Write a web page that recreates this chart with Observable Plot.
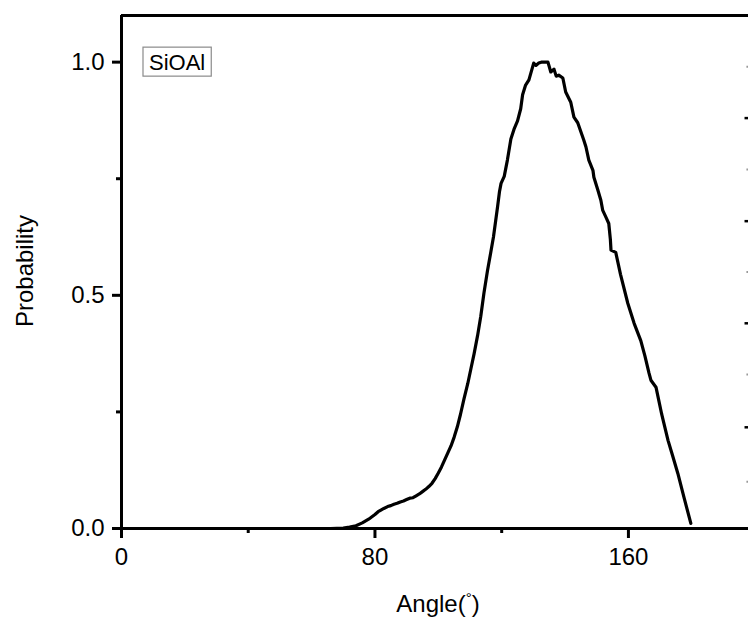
<!DOCTYPE html>
<html>
<head>
<meta charset="utf-8">
<script src="https://cdn.jsdelivr.net/npm/d3@7"></script>
<script src="https://cdn.jsdelivr.net/npm/@observablehq/plot@0.6"></script>
<style>
  html, body { margin: 0; padding: 0; background: #fff; }
  svg { display: block; }
</style>
</head>
<body>
<div id="chart"></div>
<script>
// Si–O–Al bond angle distribution (normalised to the peak)
const angle = [
  66, 70, 72, 74, 76, 78, 80, 81, 82, 82.8, 84, 85, 86, 87, 88, 89, 90, 91, 92, 93,
  94, 95, 96, 97, 98, 99, 100, 101, 102, 103, 104, 105, 106, 107, 108.1, 109.3, 110.3,
  111.3, 112.4, 113.4, 114.4, 115.5, 116.6, 117.4, 118.1, 118.7, 119.3, 119.8, 120.8, 121.8,
  122.9, 124, 125, 126, 126.6, 127.5, 128.6, 130.1, 130.8, 131.7, 132.5, 133.3, 134.6,
  135.5, 136.5, 137.2, 138, 139.3, 140.2, 141.8, 142.8, 144, 145.9, 146.6, 147.5, 148.8,
  149.1, 150.3, 151.3, 151.9, 153, 153.8, 154.3, 154.5, 156, 157.5, 159.8, 161.8, 163.9,
  165.2, 166.5, 167.1, 168.7, 170.5, 172.5, 174, 175.6, 177.6, 179.7
];
const probability = [
  0, 0.001, 0.003, 0.006, 0.012, 0.02, 0.03, 0.036, 0.04, 0.043, 0.047, 0.049, 0.052, 0.054, 0.057, 0.059, 0.062, 0.065, 0.066, 0.07,
  0.074, 0.079, 0.084, 0.09, 0.097, 0.107, 0.119, 0.132, 0.147, 0.162, 0.177, 0.196, 0.218, 0.245, 0.278, 0.311, 0.343,
  0.375, 0.414, 0.455, 0.505, 0.552, 0.594, 0.625, 0.66, 0.69, 0.722, 0.74, 0.755, 0.79,
  0.835, 0.858, 0.874, 0.9, 0.93, 0.95, 0.962, 0.998, 0.993, 0.998, 1.0, 1.0, 1.0,
  0.979, 0.985, 0.97, 0.972, 0.966, 0.936, 0.914, 0.882, 0.87, 0.833, 0.818, 0.79, 0.768,
  0.753, 0.727, 0.704, 0.682, 0.666, 0.654, 0.62, 0.597, 0.592, 0.545, 0.483, 0.44, 0.403,
  0.37, 0.333, 0.318, 0.303, 0.245, 0.189, 0.155, 0.118, 0.065, 0.011
];

const xMajor = [0, 80, 160];
const xMinor = [40, 120];
const yMajor = [0, 0.5, 1.0];
const yMinor = [0.25, 0.75];
const xDomain = [0, 197.9];
const yDomain = [0, 1.1];
// tick marks of the adjoining panel's axis, visible at the right edge
const edgeMajor = [0.88, 0.659, 0.44, 0.217];
const edgeMinor = [0.99, 0.77, 0.55, 0.33, 0.1];
const seriesName = "SiOAl";

const data = angle.map((a, i) => ({angle: a, p: probability[i]}));
const font = "'Liberation Sans', Arial, Helvetica, sans-serif";
const ink = "#000";
const lw = 3;

const chart = Plot.plot({
  width: 748,
  height: 619,
  marginLeft: 121,
  marginRight: 0,
  marginTop: 15,
  marginBottom: 91,
  style: {fontFamily: font, background: "#fff", color: ink},
  x: {domain: xDomain},
  y: {domain: yDomain},
  marks: [
    Plot.axisX({ticks: xMajor, tickSize: 10, tickPadding: 9, strokeWidth: lw,
      fontSize: 24, tickFormat: d => String(d), label: null}),
    Plot.axisX({ticks: xMinor, tickSize: 5, strokeWidth: lw, text: null, label: null}),
    Plot.axisY({ticks: yMajor, tickSize: 9, tickPadding: 8, strokeWidth: lw,
      fontSize: 24, tickFormat: d3.format(".1f"), label: null}),
    Plot.axisY({ticks: yMinor, tickSize: 5, strokeWidth: lw, text: null, label: null}),
    Plot.ruleY(edgeMajor, {x1: xDomain[1] - 1.1, x2: xDomain[1], stroke: ink, strokeWidth: 2.5}),
    Plot.ruleY(edgeMinor, {x1: xDomain[1] - 0.5, x2: xDomain[1], stroke: "#999", strokeWidth: 2}),
    Plot.ruleY([yDomain[1]], {stroke: ink, strokeWidth: lw}),
    Plot.ruleX([xDomain[0]], {stroke: ink, strokeWidth: lw}),
    Plot.ruleY([yDomain[0]], {stroke: ink, strokeWidth: lw}),
    Plot.line(data, {x: "angle", y: "p", stroke: ink, strokeWidth: 3.2,
      strokeLinejoin: "round", strokeLinecap: "round"})
  ]
});

document.getElementById("chart").appendChild(chart);
const svg = d3.select(chart);
const yPx = chart.scale("y").apply(1.0);

// boxed series key, level with the 1.0 tick
const key = svg.append("g").attr("text-anchor", "start");
const keyRect = key.append("rect");
const keyText = key.append("text")
  .attr("x", 149).attr("y", yPx).attr("dy", "0.36em")
  .attr("text-anchor", "start")
  .attr("font-family", font).attr("font-size", 22).attr("fill", ink)
  .text(seriesName);
const kb = keyText.node().getBBox();
keyRect.attr("x", kb.x - 6).attr("y", yPx - 14.5)
  .attr("width", kb.width + 12).attr("height", 29)
  .attr("fill", "#fff").attr("stroke", "#8a8a8a").attr("stroke-width", 1.2);

// axis titles
svg.append("text")
  .attr("transform", "translate(33,271) rotate(-90)")
  .attr("text-anchor", "middle")
  .attr("font-family", font).attr("font-size", 24).attr("fill", ink)
  .text("Probability");

const xt = svg.append("text")
  .attr("x", 438).attr("y", 612)
  .attr("text-anchor", "middle")
  .attr("font-family", font).attr("font-size", 24).attr("fill", ink);
xt.append("tspan").text("Angle(");
xt.append("tspan").attr("font-size", 15).attr("dy", -9).text("°");
xt.append("tspan").attr("dy", 9).text(")");
</script>
</body>
</html>
